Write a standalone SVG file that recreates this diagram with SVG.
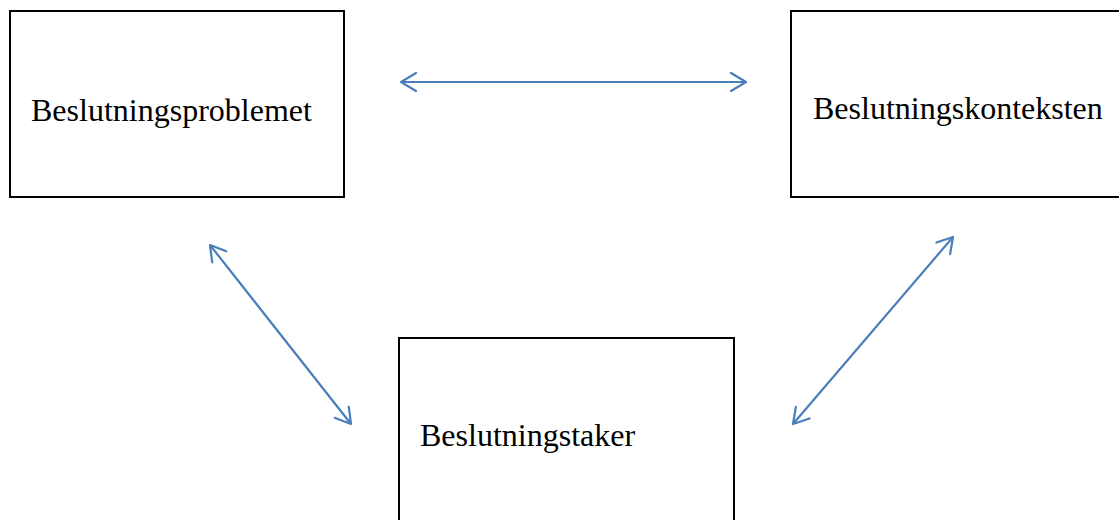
<svg xmlns="http://www.w3.org/2000/svg" width="1119" height="520" viewBox="0 0 1119 520">
<style>
.box{fill:#fff;stroke:#000;stroke-width:2}
.lbl{font-family:"Liberation Serif","Times New Roman",serif;font-size:32px;fill:#000}
.conn{stroke:#4a7ebb;stroke-width:2.2;fill:none;marker-start:url(#ah);marker-end:url(#ah)}
</style>
<defs>
<marker id="ah" viewBox="0 0 20 20" refX="18" refY="10" markerWidth="20" markerHeight="20" markerUnits="userSpaceOnUse" orient="auto-start-reverse">
<path d="M3,1 L18,10 L3,19" fill="none" stroke="#4a7ebb" stroke-width="2.2" stroke-linecap="round" stroke-linejoin="round"/>
</marker>
</defs>
<rect width="1119" height="520" fill="#fff"/>
<g id="node-problem">
<rect class="box" x="10" y="11" width="334" height="186"/>
<text class="lbl" x="31" y="121">Beslutningsproblemet</text>
</g>
<g id="node-context">
<rect class="box" x="791" y="11" width="340" height="186"/>
<text class="lbl" x="813" y="119">Beslutningskonteksten</text>
</g>
<g id="node-taker">
<rect class="box" x="399" y="338" width="335" height="200"/>
<text class="lbl" x="420" y="446">Beslutningstaker</text>
</g>
<g id="connectors">
<line class="conn" x1="401" y1="82" x2="746" y2="82"/>
<line class="conn" x1="210" y1="245" x2="351" y2="424"/>
<line class="conn" x1="953" y1="237" x2="793" y2="424"/>
</g>
</svg>
